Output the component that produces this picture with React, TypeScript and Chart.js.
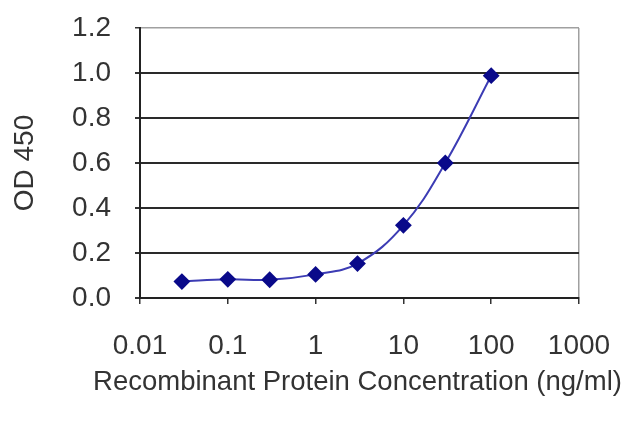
import React, { useEffect, useRef } from 'react';
import { Chart, registerables } from 'chart.js';

Chart.register(...registerables);

// concentration (ng/ml) and measured OD 450
const concentrations = [0.03, 0.1, 0.3, 1, 3, 10, 30, 100];
const od450 = [0.073, 0.083, 0.081, 0.105, 0.153, 0.323, 0.6, 0.988];

const xTickValues = [0.01, 0.1, 1, 10, 100, 1000];
const xTickLabels = ['0.01', '0.1', '1', '10', '100', '1000'];

const xTitle = 'Recombinant Protein Concentration (ng/ml)';
const yTitle = 'OD 450';

const FONT = "'Liberation Sans', Arial, sans-serif";

// the x title is wider than the plot, so chart.js would squeeze it; draw it ourselves
const xTitlePlugin = {
    id: 'xTitle',
    afterDraw(chart: any) {
        const { ctx, chartArea } = chart;
        ctx.save();
        ctx.font = `27.5px ${FONT}`;
        ctx.fillStyle = '#333';
        ctx.textAlign = 'center';
        ctx.textBaseline = 'middle';
        ctx.fillText(xTitle, (chartArea.left + chartArea.right) / 2 - 2, chartArea.bottom + 84);
        ctx.restore();
    },
};

const App: React.FC = () => {
    const chartRef = useRef<HTMLCanvasElement>(null);
    const chartInstanceRef = useRef<Chart | null>(null);

    useEffect(() => {
        if (!chartRef.current) return;
        const ctx = chartRef.current.getContext('2d');
        if (!ctx) return;

        chartInstanceRef.current = new Chart(ctx, {
            type: 'line',
            data: {
                datasets: [
                    {
                        label: yTitle,
                        data: concentrations.map((c, i) => ({ x: c, y: od450[i] })),
                        borderColor: '#3c3cb4',
                        borderWidth: 2,
                        backgroundColor: '#0a0a8a',
                        pointBackgroundColor: '#0a0a8a',
                        pointBorderColor: '#0a0a8a',
                        pointStyle: 'rectRot',
                        pointRadius: 7,
                        tension: 0.4,
                        fill: false,
                    },
                ],
            },
            options: {
                responsive: true,
                maintainAspectRatio: false,
                animation: false,
                layout: {
                    padding: { top: 28, right: 61, bottom: 0, left: 0 },
                },
                plugins: {
                    legend: { display: false },
                    tooltip: { enabled: false },
                },
                scales: {
                    x: {
                        type: 'logarithmic',
                        min: 0.01,
                        max: 1000,
                        afterBuildTicks: (scale: any) => {
                            scale.ticks = xTickValues.map((v) => ({ value: v }));
                        },
                        afterFit: (scale: any) => {
                            scale.height = 129;
                            scale.paddingLeft = 0;
                            scale.paddingRight = 0;
                        },
                        ticks: {
                            autoSkip: false,
                            maxRotation: 0,
                            padding: 25,
                            color: '#333',
                            font: { family: FONT, size: 28 },
                            callback: (value: any) => {
                                const i = xTickValues.findIndex((v) => Math.abs(v - Number(value)) < 1e-9);
                                return i >= 0 ? xTickLabels[i] : '';
                            },
                        },
                        grid: {
                            drawOnChartArea: true,
                            color: (c: any) => (c.tick && c.tick.value === 1000 ? '#a0a0a0' : 'rgba(0,0,0,0)'),
                            tickColor: '#333',
                            tickLength: 6,
                            lineWidth: 1.5,
                        },
                        border: { display: true, color: '#222', width: 2 },
                        title: { display: false },
                    },
                    y: {
                        min: 0,
                        max: 1.2,
                        afterFit: (scale: any) => {
                            scale.width = 140;
                            scale.paddingTop = 0;
                            scale.paddingBottom = 0;
                        },
                        ticks: {
                            stepSize: 0.2,
                            padding: 24,
                            color: '#333',
                            font: { family: FONT, size: 28 },
                            callback: (value: any) => Number(value).toFixed(1),
                        },
                        grid: {
                            color: (c: any) => (c.tick && Math.abs(c.tick.value - 1.2) < 1e-6 ? '#a0a0a0' : '#2a2a2a'),
                            lineWidth: (c: any) => (c.tick && Math.abs(c.tick.value - 1.2) < 1e-6 ? 1.5 : 2),
                            tickColor: '#333',
                            tickLength: 5,
                        },
                        border: { display: true, color: '#222', width: 2 },
                        title: {
                            display: true,
                            text: yTitle,
                            color: '#333',
                            font: { family: FONT, size: 28 },
                            padding: { top: 8, bottom: 0 },
                        },
                    },
                },
            },
            plugins: [xTitlePlugin],
        });

        return () => {
            if (chartInstanceRef.current) {
                chartInstanceRef.current.destroy();
                chartInstanceRef.current = null;
            }
        };
    }, []);

    return (
        <div style={{ position: 'absolute', left: 0, top: 0, width: 640, height: 427, background: '#fff' }}>
            <canvas ref={chartRef} />
        </div>
    );
};

export default App;
